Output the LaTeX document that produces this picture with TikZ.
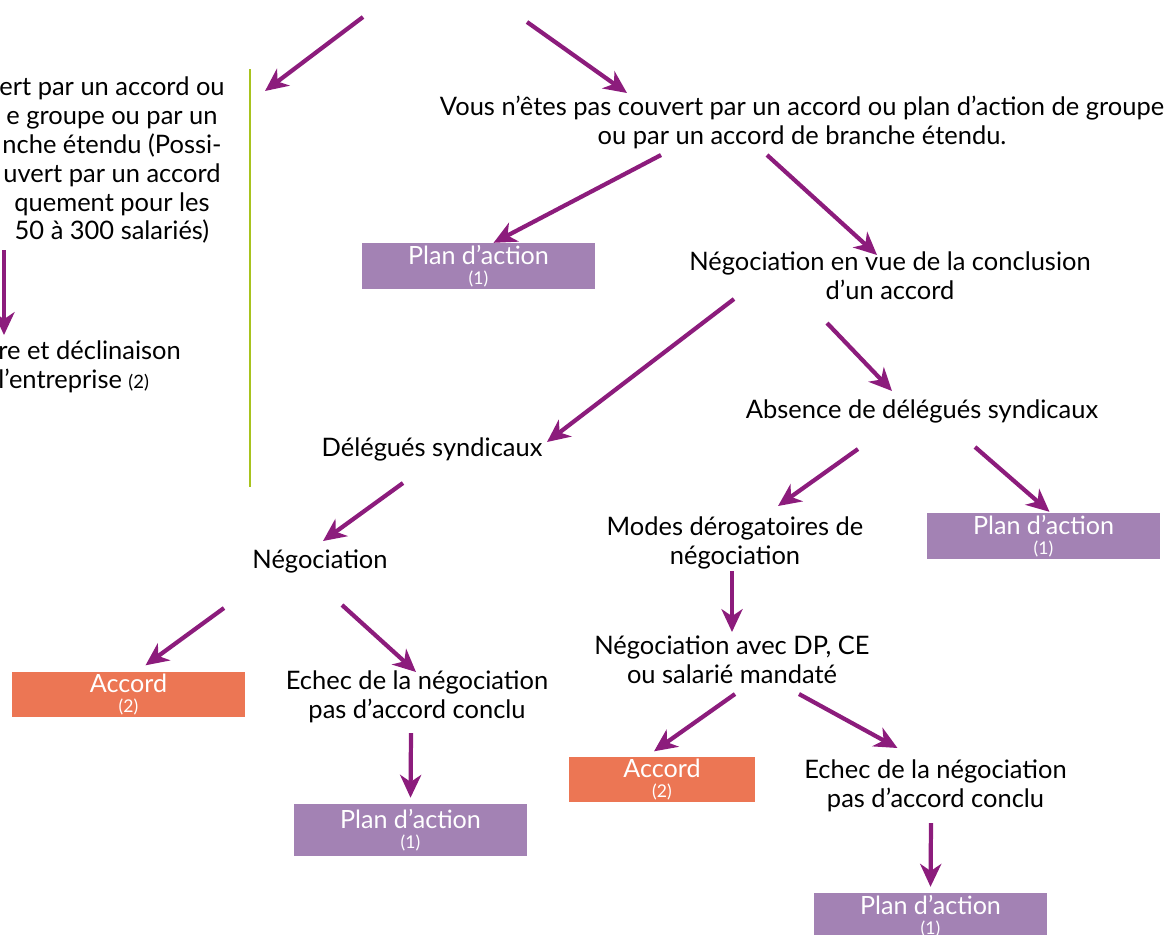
\documentclass[tikz,border=0pt]{standalone}
\usepackage{fontspec}
\setmainfont{Lato}
\usetikzlibrary{arrows.meta, calc, positioning}
\definecolor{arrowpurple}{HTML}{8C1C7C}
\definecolor{planlila}{HTML}{A382B4}
\definecolor{accordorange}{HTML}{EC7654}
\definecolor{sepgreen}{HTML}{A8C31E}

\begin{document}
\begin{tikzpicture}[x=0.02cm, y=-0.02cm,
  lbl/.style={align=center, font=\fontsize{14.5}{16.5}\selectfont, inner sep=0pt},
  outcome/.style={fill=#1, text=white, align=center, inner sep=0pt,
    minimum width=133pt, minimum height=26pt, font=\fontsize{14.3}{11.5}\selectfont},
  arr/.style={draw=arrowpurple, line width=2.4pt,
    -{Stealth[length=13pt, width=12pt, inset=4pt]}}
]
  \useasboundingbox (0,0) rectangle (1168,934);
  \clip (0,0) rectangle (1168,934);

  % Left branch (cut by the page edge)
  \node[lbl] (couvert) at (112,160) {ert par un accord ou\\e groupe ou par un\\nche étendu (Possi-\\uvert par un accord\\quement pour les\\50 à 300 salariés)};
  \node[lbl, anchor=west, align=left] (declin) at (-2,367) {re et déclinaison\\l’entreprise {\fontsize{10.5}{10}\selectfont(2)}};
  \draw[sepgreen, line width=1.2pt] (250,69) -- (250,487);

  % Right branch
  \node[lbl] (vous) at (802,122) {Vous n’êtes pas couvert par un accord ou plan d’action de groupe\\ou par un accord de branche étendu.};
  \node[outcome=planlila] (plan1) at (478.5,266) {Plan d’action\\{\fontsize{10}{10}\selectfont(1)}};
  \node[lbl] (negvue) at (890,276) {Négociation en vue de la conclusion\\d’un accord};
  \node[lbl] (absence) at (922,411) {Absence de délégués syndicaux};
  \node[lbl] (deleg) at (432,449) {Délégués syndicaux};
  \node[lbl] (neg) at (320,561) {Négociation};
  \node[lbl] (modes) at (735,543) {Modes dérogatoires de\\négociation};
  \node[outcome=planlila] (plan2) at (1043.5,536) {Plan d’action\\{\fontsize{10}{10}\selectfont(1)}};
  \node[lbl] (negdp) at (732,660) {Négociation avec DP, CE\\ou salarié mandaté};

  % Outcomes
  \node[outcome=accordorange] (accord1) at (128.5,694.5) {Accord\\{\fontsize{10}{10}\selectfont(2)}};
  \node[lbl] (echec1) at (417,697) {Echec de la négociation\\pas d’accord conclu};
  \node[outcome=planlila, minimum height=29.5pt] (plan3) at (410.5,830) {Plan d’action\\{\fontsize{10}{10}\selectfont(1)}};
  \node[outcome=accordorange, minimum width=105.5pt] (accord2) at (662,779.5) {Accord\\{\fontsize{10}{10}\selectfont(2)}};
  \node[lbl] (echec2) at (935.5,786) {Echec de la négociation\\pas d’accord conclu};
  \node[outcome=planlila] (plan4) at (930.5,916) {Plan d’action\\{\fontsize{10}{10}\selectfont(1)}};

  % Arrows
  \coordinate (rootL) at (363,17);
  \coordinate (rootR) at (527,22);
  \coordinate (leftEnd) at (265,91);
  \draw[arr] (rootL) -- (leftEnd);
  \draw[arr] (rootR) -- ($(vous)+(-175,-29)$);
  \draw[arr] ($(couvert)+(-108,90)$) -- ($(declin.west)+(6,-32)$);
  \draw[arr] ($(vous)+(-141,33)$) -- ($(plan1.north)+(15,0)$);
  \draw[arr] ($(vous)+(-35,33)$) -- ($(negvue)+(-13,-21)$);
  \draw[arr] ($(negvue)+(-156,23)$) -- ($(deleg)+(115,-7)$);
  \draw[arr] ($(negvue)+(-63,47)$) -- ($(absence)+(-30,-20)$);
  \draw[arr] ($(deleg)+(-29,34)$) -- ($(neg)+(3,-20)$);
  \draw[arr] ($(absence)+(-64,38)$) -- ($(modes)+(43,-37)$);
  \draw[arr] ($(absence)+(53,36)$) -- ($(plan2.north)+(6,-1)$);
  \draw[arr] ($(modes)+(-3,28)$) -- ($(negdp)+(0,-28)$);
  \draw[arr] ($(neg)+(-96,47)$) -- ($(accord1.north)+(17,-6)$);
  \draw[arr] ($(neg)+(22,44)$) -- ($(echec1)+(-1,-25)$);
  \draw[arr] ($(echec1)+(-6,36)$) -- ($(plan3.north)+(0,-6)$);
  \draw[arr] ($(negdp)+(3,34)$) -- ($(accord2.north)+(-8,-5)$);
  \draw[arr] ($(negdp)+(67,34)$) -- ($(echec2)+(-38,-38)$);
  \draw[arr] ($(echec2)+(-4.5,37)$) -- ($(plan4.north)+(0,-6)$);
\end{tikzpicture}
\end{document}
